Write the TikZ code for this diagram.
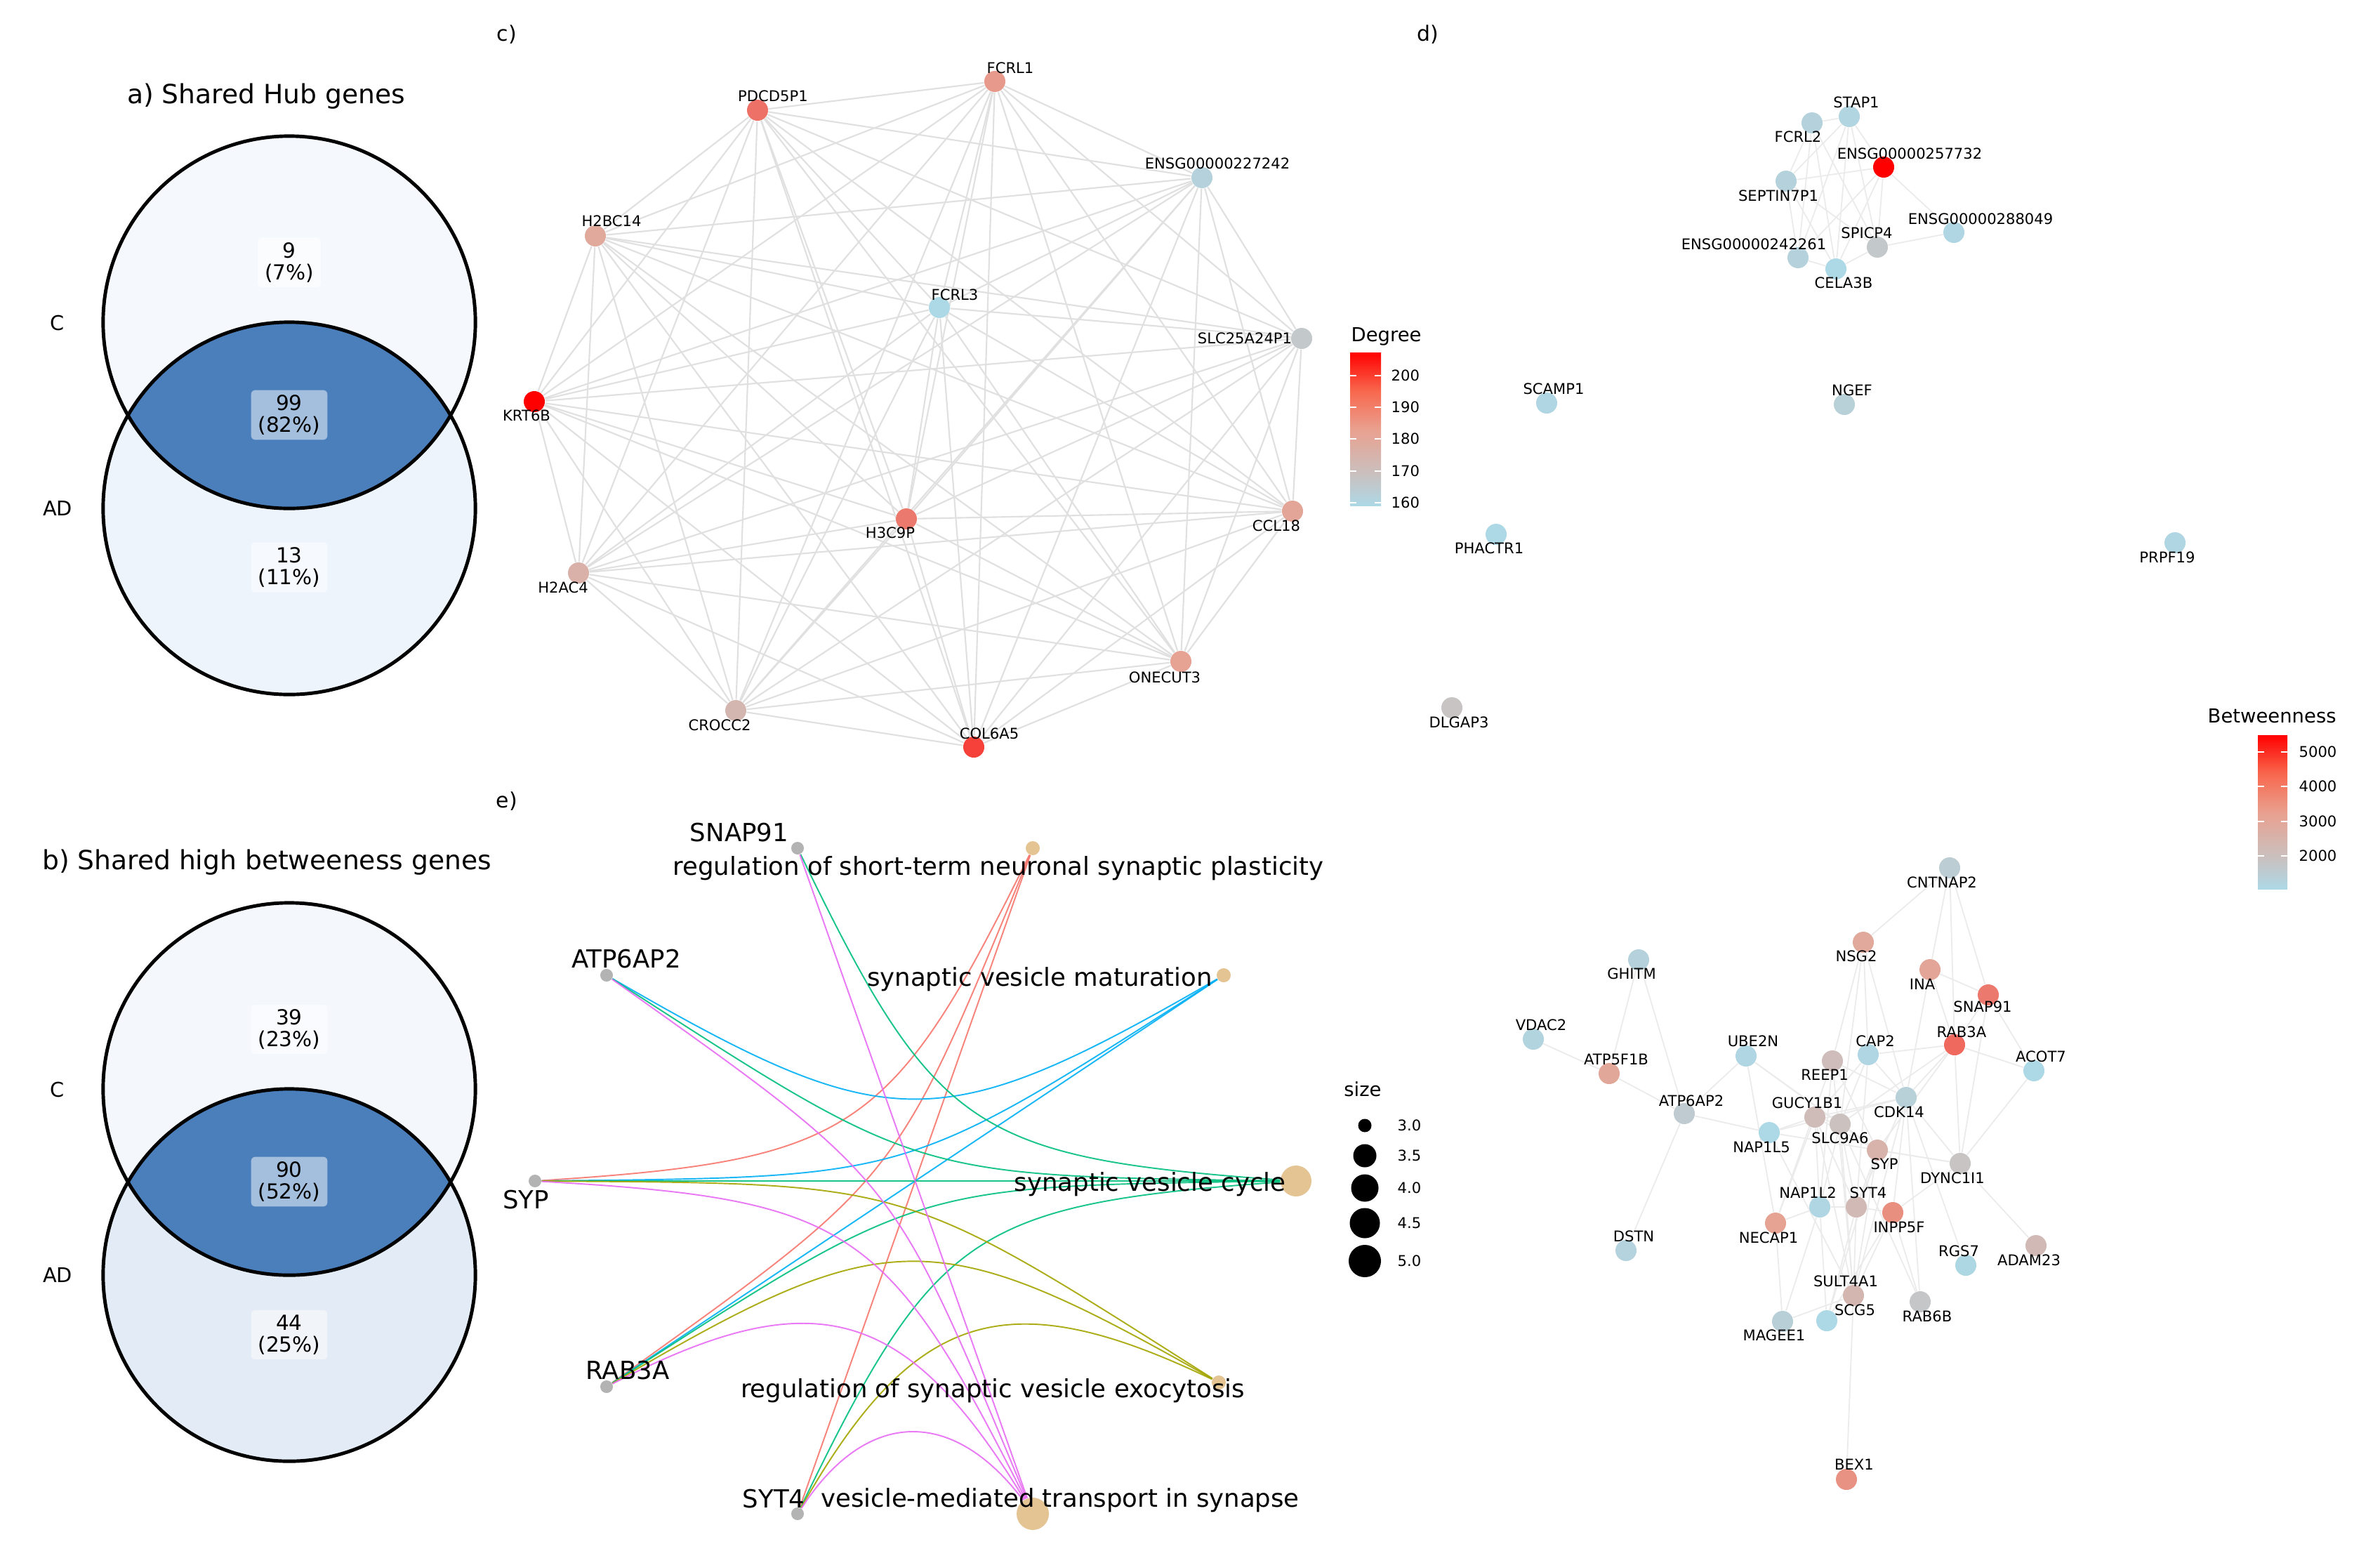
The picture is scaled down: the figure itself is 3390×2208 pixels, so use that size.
\documentclass[tikz,border=0pt]{standalone}
\usepackage{fontspec}
\setmainfont{DejaVu Sans}
\usetikzlibrary{backgrounds}
\definecolor{edgegrey}{HTML}{E0E0E0}
\definecolor{dedgegrey}{HTML}{EBEBEB}
\definecolor{lowblue}{HTML}{ADD8E6}
\definecolor{midgrey}{HTML}{C8C4C4}
\definecolor{salmonmid}{HTML}{E6A292}
\definecolor{hotred}{HTML}{FF0000}
\definecolor{barmid}{HTML}{C9C1C0}
\definecolor{barsalmon}{HTML}{E9A08F}
\definecolor{barorange}{HTML}{F8674D}
\definecolor{vennupA}{HTML}{F5F9FE}
\definecolor{vennlowA}{HTML}{EDF4FC}
\definecolor{vennupB}{HTML}{F4F8FD}
\definecolor{vennlowB}{HTML}{E3EBF6}
\definecolor{vennmid}{HTML}{4A7FBB}
\definecolor{genegrey}{HTML}{B3B3B3}
\definecolor{termtan}{HTML}{E5C494}
\definecolor{catred}{HTML}{F8766D}
\definecolor{catolive}{HTML}{A3A500}
\definecolor{catgreen}{HTML}{00BF7D}
\definecolor{catblue}{HTML}{00B0F6}
\definecolor{catpink}{HTML}{E76BF3}
% the visible part of a shading runs from 25bp to 75bp
\pgfdeclareverticalshading{heatbar}{100bp}{color(0bp)=(lowblue); color(25bp)=(lowblue); color(35bp)=(barmid); color(50bp)=(barsalmon); color(62.5bp)=(barorange); color(75bp)=(hotred); color(100bp)=(hotred)}

\begin{document}
\begin{tikzpicture}[x=0.01cm, y=-0.01cm,
    gene/.style={circle, inner sep=0pt, minimum size=3mm, fill=#1},
    glabel/.style={font=\fontsize{6}{7}\selectfont, inner sep=0pt, text height=4.4pt, text depth=0pt},
    panel/.style={font=\fontsize{8.5}{10}\selectfont, inner sep=0pt, text height=6.2pt, text depth=0pt},
    vtitle/.style={font=\fontsize{10.7}{12}\selectfont, inner sep=0pt, text height=7.8pt, text depth=0pt},
    vset/.style={font=\fontsize{8.2}{9}\selectfont, inner sep=0pt, text height=6pt, text depth=0pt},
    vcount/.style={font=\fontsize{8.4}{8.8}\selectfont, align=center, fill=white, fill opacity=.5, text opacity=1, rounded corners=.6mm, inner xsep=1mm, inner ysep=.7mm},
    vring/.style={line width=1.4pt},
    cedge/.style={draw=edgegrey, line width=.6pt},
    dedge/.style={draw=dedgegrey, line width=.5pt},
    egene/.style={circle, inner sep=0pt, minimum size=1.8mm, fill=genegrey},
    eterm/.style={circle, inner sep=0pt, minimum size=#1, fill=termtan},
    elabel/.style={font=\fontsize{10.1}{12}\selectfont, inner sep=0pt, text height=7.4pt, text depth=0pt},
    ltitle/.style={font=\fontsize{7.8}{9}\selectfont, inner sep=0pt, text height=5.7pt, text depth=0pt, anchor=west},
    ltick/.style={font=\fontsize{6}{7}\selectfont, inner sep=0pt, text height=4.4pt, text depth=0pt, anchor=west},
    bartick/.style={white, line width=.5pt},
    ecurve/.style={line width=.55pt, draw=#1, draw opacity=.9, looseness=1.36},
    sizekey/.style={circle, inner sep=0pt, minimum size=#1, fill=black},
  ]
  \useasboundingbox (0,0) rectangle (3390,2208);
  \begin{scope}[on background layer]
    \fill[white] (0,0) rectangle (3390,2208);
  \end{scope}

  % a) Venn of hub genes
  \fill[vennupA] (412,459) circle (26.5mm);
  \fill[vennlowA] (412,724) circle (26.5mm);
  \begin{scope}
    \clip (412,459) circle (26.5mm);
    \fill[vennmid] (412,724) circle (26.5mm);
  \end{scope}
  \draw[vring] (412,459) circle (26.5mm) (412,724) circle (26.5mm);
  \node[vtitle] (titlea) at (379,134) {a) Shared Hub genes};
  \node[vset] (seta-c) at (82,460) {C};
  \node[vset] (seta-ad) at (82,724) {AD};
  \node[vcount] (cnta-c) at (412,374) {9\\(7\%)};
  \node[vcount] (cnta-both) at (412,591) {99\\(82\%)};
  \node[vcount] (cnta-ad) at (412,808) {13\\(11\%)};

  % b) Venn of high betweenness genes
  \fill[vennupB] (412,1551) circle (26.5mm);
  \fill[vennlowB] (412,1816) circle (26.5mm);
  \begin{scope}
    \clip (412,1551) circle (26.5mm);
    \fill[vennmid] (412,1816) circle (26.5mm);
  \end{scope}
  \draw[vring] (412,1551) circle (26.5mm) (412,1816) circle (26.5mm);
  \node[vtitle] (titleb) at (380,1225) {b) Shared high betweeness genes};
  \node[vset] (setb-c) at (82,1552) {C};
  \node[vset] (setb-ad) at (82,1816) {AD};
  \node[vcount] (cntb-c) at (412,1466) {39\\(23\%)};
  \node[vcount] (cntb-both) at (412,1683) {90\\(52\%)};
  \node[vcount] (cntb-ad) at (412,1901) {44\\(25\%)};

  % c) hub gene network
  \node[panel] (panelc) at (722,48) {c)};
  \node[gene=hotred] (krt6b) at (761,572) {};
  \node[gene=hotred!60!salmonmid] (col6a5) at (1387,1064) {};
  \node[gene=hotred!30!salmonmid] (pdcd5p1) at (1079,157) {};
  \node[gene=hotred!25!salmonmid] (h3c9p) at (1291,739) {};
  \node[gene=hotred!5!salmonmid] (fcrl1) at (1417,116) {};
  \node[gene=salmonmid] (onecut3) at (1682,942) {};
  \node[gene=salmonmid!90!midgrey] (ccl18) at (1841,728) {};
  \node[gene=salmonmid!80!midgrey] (h2bc14) at (848,336) {};
  \node[gene=salmonmid!55!midgrey] (h2ac4) at (824,816) {};
  \node[gene=salmonmid!40!midgrey] (crocc2) at (1048,1012) {};
  \node[gene=midgrey!80!lowblue] (slc25a24p1) at (1854,482) {};
  \node[gene=lowblue!70!midgrey] (ensg227242) at (1712,253) {};
  \node[gene=lowblue] (fcrl3) at (1338,438) {};
  \node[glabel] (fcrl1-lab) at (1439,97) {FCRL1};
  \node[glabel] (pdcd5p1-lab) at (1101,137) {PDCD5P1};
  \node[glabel] (ensg227242-lab) at (1734,233) {ENSG00000227242};
  \node[glabel] (h2bc14-lab) at (871,315) {H2BC14};
  \node[glabel] (fcrl3-lab) at (1360,420) {FCRL3};
  \node[glabel] (slc25a24p1-lab) at (1773,482) {SLC25A24P1};
  \node[glabel] (krt6b-lab) at (750,592) {KRT6B};
  \node[glabel] (h3c9p-lab) at (1268,759) {H3C9P};
  \node[glabel] (ccl18-lab) at (1818,749) {CCL18};
  \node[glabel] (h2ac4-lab) at (802,837) {H2AC4};
  \node[glabel] (onecut3-lab) at (1659,965) {ONECUT3};
  \node[glabel] (crocc2-lab) at (1025,1033) {CROCC2};
  \node[glabel] (col6a5-lab) at (1409,1045) {COL6A5};
  \def\cnodes{krt6b,col6a5,pdcd5p1,h3c9p,fcrl1,onecut3,ccl18,h2bc14,h2ac4,crocc2,slc25a24p1,ensg227242,fcrl3}
  \begin{scope}[on background layer]
    \foreach \a [count=\i] in \cnodes {
      \foreach \b [count=\j] in \cnodes {
        \ifnum\j>\i \draw[cedge] (\a) -- (\b); \fi
      }
    }
  \end{scope}

  % Degree legend
  \node[ltitle] (degtitle) at (1924,476) {Degree};
  \shade[shading=heatbar] (1923,502) rectangle (1967,720);
  \foreach \y/\v in {535/200, 580/190, 625/180, 671/170, 716/160} {
    \draw[bartick] (1923,\y) -- (1932,\y) (1958,\y) -- (1967,\y);
    \node[ltick] (deg-\v) at (1981,\y) {\v};
  }

  % d) high betweenness network
  \node[panel] (paneld) at (2034,48) {d)};
  \node[gene=lowblue!85!midgrey] (stap1) at (2634,166) {};
  \node[gene=lowblue!70!midgrey] (fcrl2) at (2581,175) {};
  \node[gene=hotred] (ensg257732) at (2683,238) {};
  \node[gene=lowblue!70!midgrey] (septin7p1) at (2544,258) {};
  \node[gene=lowblue!90!midgrey] (ensg288049) at (2783,331) {};
  \node[gene=midgrey!80!lowblue] (spicp4) at (2674,352) {};
  \node[gene=lowblue!70!midgrey] (ensg242261) at (2561,367) {};
  \node[gene=lowblue] (cela3b) at (2615,383) {};
  \node[gene=lowblue!90!midgrey] (scamp1) at (2203,574) {};
  \node[gene=lowblue!60!midgrey] (ngef) at (2627,576) {};
  \node[gene=lowblue] (phactr1) at (2131,761) {};
  \node[gene=lowblue!90!midgrey] (prpf19) at (3098,773) {};
  \node[gene=midgrey] (dlgap3) at (2068,1008) {};
  \node[glabel] (stap1-lab) at (2644,146) {STAP1};
  \node[glabel] (fcrl2-lab) at (2561,195) {FCRL2};
  \node[glabel] (ensg257732-lab) at (2720,219) {ENSG00000257732};
  \node[glabel] (septin7p1-lab) at (2533,279) {SEPTIN7P1};
  \node[glabel] (ensg288049-lab) at (2821,312) {ENSG00000288049};
  \node[glabel] (spicp4-lab) at (2659,332) {SPICP4};
  \node[glabel] (ensg242261-lab) at (2498,348) {ENSG00000242261};
  \node[glabel] (cela3b-lab) at (2626,403) {CELA3B};
  \node[glabel] (scamp1-lab) at (2213,554) {SCAMP1};
  \node[glabel] (ngef-lab) at (2638,556) {NGEF};
  \node[glabel] (phactr1-lab) at (2121,781) {PHACTR1};
  \node[glabel] (prpf19-lab) at (3087,794) {PRPF19};
  \node[glabel] (dlgap3-lab) at (2078,1029) {DLGAP3};

  \node[gene=lowblue!45!midgrey] (cntnap2) at (2777,1236) {};
  \node[gene=salmonmid!80!midgrey] (nsg2) at (2654,1342) {};
  \node[gene=lowblue!70!midgrey] (ghitm) at (2334,1367) {};
  \node[gene=salmonmid!90!midgrey] (ina) at (2749,1381) {};
  \node[gene=hotred!25!salmonmid] (snap91) at (2832,1417) {};
  \node[gene=lowblue!80!midgrey] (vdac2) at (2184,1480) {};
  \node[gene=hotred!35!salmonmid] (rab3a) at (2784,1488) {};
  \node[gene=lowblue!90!midgrey] (ube2n) at (2487,1504) {};
  \node[gene=lowblue!90!midgrey] (cap2) at (2661,1502) {};
  \node[gene=salmonmid!85!midgrey] (atp5f1b) at (2292,1529) {};
  \node[gene=lowblue] (acot7) at (2897,1525) {};
  \node[gene=salmonmid!20!midgrey] (reep1) at (2610,1511) {};
  \node[gene=lowblue!60!midgrey] (cdk14) at (2715,1563) {};
  \node[gene=lowblue!35!midgrey] (atp6ap2) at (2399,1586) {};
  \node[gene=salmonmid!25!midgrey] (gucy1b1) at (2585,1591) {};
  \node[gene=salmonmid!10!midgrey] (slc9a6) at (2621,1601) {};
  \node[gene=lowblue] (nap1l5) at (2520,1613) {};
  \node[gene=salmonmid!50!midgrey] (syp) at (2674,1638) {};
  \node[gene=midgrey] (dync1i1) at (2792,1657) {};
  \node[gene=lowblue!90!midgrey] (nap1l2) at (2592,1719) {};
  \node[gene=salmonmid!30!midgrey] (syt4) at (2644,1719) {};
  \node[gene=hotred!12!salmonmid] (inpp5f) at (2696,1727) {};
  \node[gene=salmonmid] (necap1) at (2529,1742) {};
  \node[gene=lowblue!75!midgrey] (dstn) at (2316,1781) {};
  \node[gene=salmonmid!30!midgrey] (adam23) at (2900,1774) {};
  \node[gene=lowblue!95!midgrey] (rgs7) at (2800,1802) {};
  \node[gene=salmonmid!40!midgrey] (sult4a1) at (2640,1845) {};
  \node[gene=midgrey!90!lowblue] (rab6b) at (2735,1854) {};
  \node[gene=lowblue] (scg5) at (2602,1881) {};
  \node[gene=lowblue!55!midgrey] (magee1) at (2539,1882) {};
  \node[gene=hotred!10!salmonmid] (bex1) at (2630,2107) {};
  \node[glabel] (cntnap2-lab) at (2766,1257) {CNTNAP2};
  \node[glabel] (nsg2-lab) at (2644,1362) {NSG2};
  \node[glabel] (ghitm-lab) at (2324,1387) {GHITM};
  \node[glabel] (ina-lab) at (2738,1402) {INA};
  \node[glabel] (snap91-lab) at (2824,1434) {SNAP91};
  \node[glabel] (vdac2-lab) at (2195,1460) {VDAC2};
  \node[glabel] (rab3a-lab) at (2794,1470) {RAB3A};
  \node[glabel] (ube2n-lab) at (2497,1483) {UBE2N};
  \node[glabel] (cap2-lab) at (2671,1483) {CAP2};
  \node[glabel] (atp5f1b-lab) at (2302,1509) {ATP5F1B};
  \node[glabel] (acot7-lab) at (2907,1505) {ACOT7};
  \node[glabel] (reep1-lab) at (2599,1531) {REEP1};
  \node[glabel] (cdk14-lab) at (2705,1584) {CDK14};
  \node[glabel] (atp6ap2-lab) at (2409,1568) {ATP6AP2};
  \node[glabel] (gucy1b1-lab) at (2574,1571) {GUCY1B1};
  \node[glabel] (slc9a6-lab) at (2621,1621) {SLC9A6};
  \node[glabel] (nap1l5-lab) at (2509,1634) {NAP1L5};
  \node[glabel] (syp-lab) at (2684,1658) {SYP};
  \node[glabel] (dync1i1-lab) at (2781,1678) {DYNC1I1};
  \node[glabel] (nap1l2-lab) at (2575,1699) {NAP1L2};
  \node[glabel] (syt4-lab) at (2661,1699) {SYT4};
  \node[glabel] (inpp5f-lab) at (2705,1748) {INPP5F};
  \node[glabel] (necap1-lab) at (2519,1763) {NECAP1};
  \node[glabel] (dstn-lab) at (2327,1761) {DSTN};
  \node[glabel] (adam23-lab) at (2890,1795) {ADAM23};
  \node[glabel] (rgs7-lab) at (2790,1782) {RGS7};
  \node[glabel] (sult4a1-lab) at (2629,1825) {SULT4A1};
  \node[glabel] (rab6b-lab) at (2745,1875) {RAB6B};
  \node[glabel] (scg5-lab) at (2642,1866) {SCG5};
  \node[glabel] (magee1-lab) at (2527,1902) {MAGEE1};
  \node[glabel] (bex1-lab) at (2641,2086) {BEX1};
  \begin{scope}[on background layer]
    \foreach \a/\b in {stap1/fcrl2, stap1/ensg257732, stap1/septin7p1, stap1/ensg242261, stap1/cela3b, stap1/spicp4,
        fcrl2/septin7p1, fcrl2/ensg242261, fcrl2/cela3b, fcrl2/spicp4, septin7p1/ensg257732, septin7p1/ensg242261,
        septin7p1/cela3b, septin7p1/spicp4, ensg257732/ensg288049, ensg257732/cela3b, ensg257732/ensg242261,
        ensg257732/spicp4, spicp4/ensg288049, spicp4/cela3b, cela3b/ensg242261}
      \draw[dedge] (\a) -- (\b);
    \foreach \a/\b in {cntnap2/nsg2, cntnap2/ina, cntnap2/rab3a, cntnap2/snap91,
        nsg2/reep1, nsg2/cap2, nsg2/cdk14, nsg2/slc9a6, ina/snap91, ina/rab3a, ina/cdk14,
        snap91/rab3a, snap91/acot7, snap91/dync1i1, rab3a/cap2, rab3a/acot7, rab3a/cdk14, rab3a/syp,
        rab3a/dync1i1, rab3a/slc9a6, acot7/dync1i1, ghitm/atp5f1b, ghitm/atp6ap2, vdac2/atp5f1b,
        atp5f1b/atp6ap2, atp6ap2/ube2n, atp6ap2/nap1l5, atp6ap2/dstn, ube2n/necap1, ube2n/slc9a6, ube2n/syp,
        nap1l5/dync1i1, nap1l5/gucy1b1, nap1l5/cdk14, nap1l5/sult4a1, reep1/necap1, reep1/syp, reep1/sult4a1,
        reep1/cdk14, reep1/nap1l2, cap2/cdk14, cap2/gucy1b1, cap2/syt4, cap2/slc9a6,
        cdk14/dync1i1, cdk14/gucy1b1, cdk14/rab6b, cdk14/rgs7, cdk14/inpp5f, cdk14/sult4a1, cdk14/syt4,
        dync1i1/adam23, dync1i1/inpp5f, dync1i1/syp, syt4/nap1l2, syt4/inpp5f, syt4/sult4a1, syt4/scg5,
        syt4/gucy1b1, syt4/slc9a6, syt4/syp, nap1l2/necap1, nap1l2/scg5, nap1l2/magee1, nap1l2/gucy1b1,
        nap1l2/slc9a6, necap1/magee1, necap1/gucy1b1, sult4a1/bex1, sult4a1/magee1, sult4a1/inpp5f,
        sult4a1/gucy1b1, sult4a1/slc9a6, sult4a1/syp, inpp5f/rab6b, inpp5f/scg5, rab6b/slc9a6,
        syp/slc9a6, syp/gucy1b1, syp/scg5, gucy1b1/slc9a6}
      \draw[dedge] (\a) -- (\b);
  \end{scope}

  % Betweenness legend
  \node[ltitle] (btwtitle) at (3144,1019) {Betweenness};
  \shade[shading=heatbar] (3216,1047) rectangle (3258,1266);
  \foreach \y/\v in {1071/5000, 1120/4000, 1170/3000, 1219/2000} {
    \draw[bartick] (3216,\y) -- (3225,\y) (3249,\y) -- (3258,\y);
    \node[ltick] (btw-\v) at (3274,\y) {\v};
  }

  % e) gene-concept network
  \node[panel] (panele) at (722,1140) {e)};
  \node[eterm=2mm] (plast) at (1471,1208) {};
  \node[eterm=2mm] (matur) at (1743,1389) {};
  \node[eterm=4.4mm] (cycle) at (1846,1682) {};
  \node[eterm=2mm] (exocy) at (1736,1969) {};
  \node[eterm=4.6mm] (transp) at (1471,2156) {};
  \node[egene] (esnap91) at (1136,1208) {};
  \node[egene] (eatp6ap2) at (864,1389) {};
  \node[egene] (esyp) at (762,1682) {};
  \node[egene] (erab3a) at (864,1975) {};
  \node[egene] (esyt4) at (1136,2156) {};
  \node[elabel] (esnap91-lab) at (1053,1185) {SNAP91};
  \node[elabel] (eatp6ap2-lab) at (892,1365) {ATP6AP2};
  \node[elabel] (esyp-lab) at (749,1708) {SYP};
  \node[elabel] (erab3a-lab) at (894,1951) {RAB3A};
  \node[elabel] (esyt4-lab) at (1102,2134) {SYT4};
  \node[elabel] (plast-lab) at (1422,1233) {regulation of short-term neuronal synaptic plasticity};
  \node[elabel] (matur-lab) at (1481,1391) {synaptic vesicle maturation};
  \node[elabel] (cycle-lab) at (1638,1683) {synaptic vesicle cycle};
  \node[elabel] (exocy-lab) at (1414,1977) {regulation of synaptic vesicle exocytosis};
  \node[elabel] (transp-lab) at (1510,2133) {vesicle-mediated transport in synapse};
  \begin{scope}[on background layer]
    \draw[ecurve=catred] (esyp) to[bend right=30] (plast);
    \draw[ecurve=catred] (erab3a) to[bend right=16] (plast);
    \draw[ecurve=catred] (esyt4) -- (plast);
    \draw[ecurve=catblue] (eatp6ap2) to[bend right=30] (matur);
    \draw[ecurve=catblue] (esyp) to[bend right=16] (matur);
    \draw[ecurve=catblue] (erab3a) -- (matur);
    \draw[ecurve=catgreen] (esnap91) to[bend right=30] (cycle);
    \draw[ecurve=catgreen] (eatp6ap2) to[bend right=16] (cycle);
    \draw[ecurve=catgreen] (esyp) -- (cycle);
    \draw[ecurve=catgreen] (erab3a) to[bend left=16] (cycle);
    \draw[ecurve=catgreen] (esyt4) to[bend left=30] (cycle);
    \draw[ecurve=catolive] (esyp) to[bend left=16] (exocy);
    \draw[ecurve=catolive] (erab3a) to[bend left=30] (exocy);
    \draw[ecurve=catolive] (esyt4) to[bend left=43] (exocy);
    \draw[ecurve=catpink] (esnap91) -- (transp);
    \draw[ecurve=catpink] (eatp6ap2) to[bend left=16] (transp);
    \draw[ecurve=catpink] (esyp) to[bend left=30] (transp);
    \draw[ecurve=catpink] (erab3a) to[bend left=43] (transp);
    \draw[ecurve=catpink] (esyt4) to[bend left=55] (transp);
  \end{scope}

  % size legend
  \node[ltitle, anchor=center] (sizetitle) at (1941,1551) {size};
  \foreach \y/\d/\v in {1603/1.9mm/3.0, 1646/3.3mm/3.5, 1692/3.9mm/4.0, 1742/4.3mm/4.5, 1796/4.6mm/5.0} {
    \node[sizekey=\d] (size-\v) at (1944,\y) {};
    \node[ltick] (sizelab-\v) at (1990,\y) {\v};
  }
\end{tikzpicture}
\end{document}
